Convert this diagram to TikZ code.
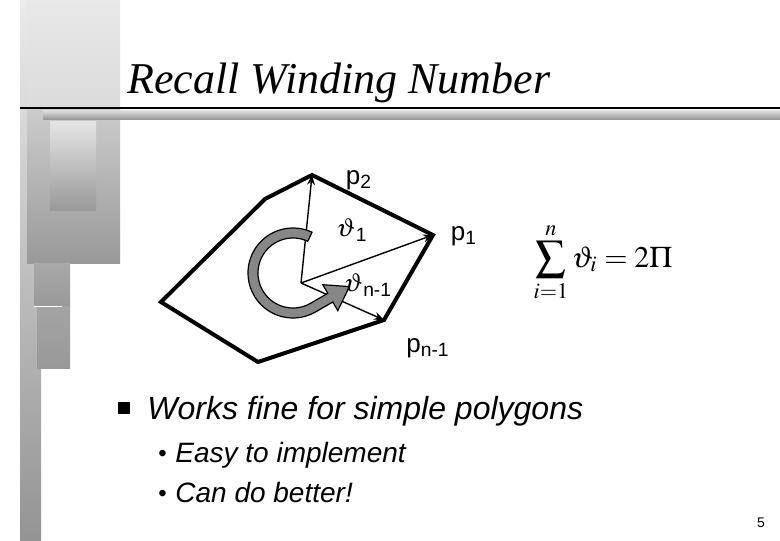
\documentclass[tikz,border=0pt]{standalone}
\usepackage{mathptmx}
\usepackage[no-math]{fontspec}
\setmainfont{Liberation Sans}
\newfontfamily\titlefont{Liberation Serif}
\usetikzlibrary{arrows.meta,calc}

\begin{document}
\begin{tikzpicture}[x=0.5pt, y=-0.5pt,
    rim/.style={line width=2pt, line join=miter},
    spoke/.style={line width=0.7pt, -{Stealth[length=5pt, width=4pt]}},
    lbl/.style={font=\fontsize{13}{15}\selectfont, inner sep=0pt},
    winder/.style={fill=black!47, draw=black, line width=0.6pt},
    itemtxt/.style={anchor=base west, inner sep=0pt, font=\fontsize{16}{19}\selectfont\itshape},
    subtxt/.style={anchor=base west, inner sep=0pt, font=\fontsize{14}{17}\selectfont\itshape}
]
\useasboundingbox (0,0) rectangle (780,540);

% -- Left margin decoration --
\shade[top color=black!8, bottom color=black!42] (20,0) rectangle (41,540);
\shade[top color=black!9, bottom color=black!14] (27,0) rectangle (120,108);
\shade[top color=black!20, bottom color=black!40] (27,108) rectangle (120,263);
\shade[top color=black!10, bottom color=black!40] (50,121) rectangle (96,210);
\shade[top color=black!34, bottom color=black!40] (34,263) rectangle (70,306);
\shade[top color=black!36, bottom color=black!40] (37,306) rectangle (70,368);
\draw[white, line width=0.5pt] (34,306) -- (62,306);

% title rule and bar
\shade[top color=black!12, bottom color=black!40] (43,110) rectangle (780,119);
\draw[line width=1pt] (20,108) -- (780,108);

\node[anchor=base west, inner sep=0pt, font=\titlefont\itshape\fontsize{22}{26}\selectfont] (title) at (127,94) {Recall Winding Number};

% -- Polygon --
\coordinate (o) at (301,283);
\coordinate (p1) at (433,235);
\coordinate (p2) at (312,175);
\coordinate (pa) at (265,199);
\coordinate (pb) at (161,302);
\coordinate (pc) at (258,362);
\coordinate (pn) at (384,320);

\draw[rim] (p1) -- (p2) -- (pa) -- (pb) -- (pc) -- (pn) -- cycle;
\draw[spoke] (o) -- (p2);
\draw[spoke] (o) -- (p1);
\draw[spoke] (o) -- (pn);

% gray turning arrow
\coordinate (c) at (293,273);
\draw[winder, shift={(c)}] (-65:45) -- plot[domain=-65:-300, samples=60] (\x:45)
    -- (39.8,29.0) -- (44.8,37.6) -- (56.4,13.6) -- (29.8,11.7) -- (34.8,20.3)
    -- plot[domain=-300:-65, samples=60] (\x:35) -- cycle;

% labels
\node[lbl] (l2) at (359,180) {p\textsubscript{2}};
\node[lbl] (t1) at (352,230) {$\vartheta$\textsubscript{1}};
\node[lbl] (l1) at (464,236) {p\textsubscript{1}};
\node[lbl] (tn) at (368,285) {$\vartheta$\textsubscript{n-1}};
\node[lbl] (ln) at (428,348) {p\textsubscript{n-1}};

\node[font=\fontsize{15}{17}\selectfont] (sum) at (603,262) {$\displaystyle\sum_{i=1}^{n}\vartheta_i = 2\Pi$};

% -- Bullets --
\node[fill, minimum size=6pt, inner sep=0pt] (sq) at (123.5,408) {};
\node[itemtxt] (works) at (147,419) {Works fine for simple polygons};
\node[subtxt, font=\fontsize{12}{14}\selectfont] (b1) at (158,461) {\textbullet};
\node[subtxt] (easy) at (175,462) {Easy to implement};
\node[subtxt, font=\fontsize{12}{14}\selectfont] (b2) at (158,501) {\textbullet};
\node[subtxt] (better) at (175,502) {Can do better!};

\node[anchor=base, inner sep=0pt, font=\fontsize{7}{8}\selectfont] (pg) at (761,527) {5};

\end{tikzpicture}
\end{document}
